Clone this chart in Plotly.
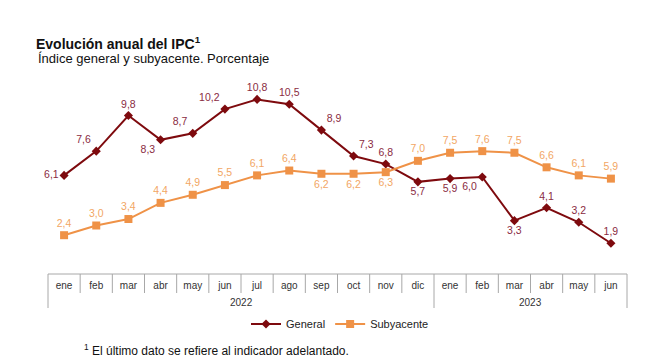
import plotly.graph_objects as go

months = ["ene", "feb", "mar", "abr", "may", "jun", "jul", "ago", "sep", "oct", "nov", "dic",
          "ene", "feb", "mar", "abr", "may", "jun"]
years = ["2022", "2023"]
general = [6.1, 7.6, 9.8, 8.3, 8.7, 10.2, 10.8, 10.5, 8.9, 7.3, 6.8, 5.7, 5.9, 6.0, 3.3, 4.1, 3.2, 1.9]
subyacente = [2.4, 3.0, 3.4, 4.4, 4.9, 5.5, 6.1, 6.4, 6.2, 6.2, 6.3, 7.0, 7.5, 7.6, 7.5, 6.6, 6.1, 5.9]

gen_pos = ["middle left", "top left", "top center", "bottom left", "top left", "top left",
           "top center", "top center", "top right", "top right", "top center", "bottom center",
           "bottom center", "bottom left", "bottom center", "top center", "top center", "top center"]
sub_pos = ["top center"] * 8 + ["bottom center"] * 3 + ["top center"] * 7

fmt = lambda v: f"{v:.1f}".replace(".", ",")
x = list(range(len(months)))

FONT = "Liberation Sans, Arial, sans-serif"
GEN_C = "#7E0A0E"
SUB_C = "#EF9247"

fig = go.Figure()
fig.add_trace(go.Scatter(
    x=x, y=general, name="General", mode="lines+markers+text",
    line=dict(color=GEN_C, width=2),
    marker=dict(symbol="diamond", size=7, color=GEN_C),
    text=[fmt(v) for v in general], textposition=gen_pos,
    textfont=dict(color="#8A2B3F", size=10.5, family=FONT),
    cliponaxis=False,
))
fig.add_trace(go.Scatter(
    x=x, y=subyacente, name="Subyacente", mode="lines+markers+text",
    line=dict(color=SUB_C, width=2),
    marker=dict(symbol="square", size=8, color=SUB_C),
    text=[fmt(v) for v in subyacente], textposition=sub_pos,
    textfont=dict(color="#F2A664", size=10.5, family=FONT),
    cliponaxis=False,
))

n = len(months)
L, W, B, H = 48.0, 579.0, 274.0, 194.0
px = lambda v: (v - L) / W
py = lambda v: (B - v) / H

shapes = []
line_c = "#A8A8A8"
shapes.append(dict(type="line", xref="paper", yref="paper", x0=0, x1=1, y0=0, y1=0,
                   line=dict(color=line_c, width=1)))
for k in range(n + 1):
    full = k in (0, 12, n)
    y1 = py(308) if full else py(293)
    shapes.append(dict(type="line", xref="paper", yref="paper", x0=k / n, x1=k / n,
                       y0=0, y1=y1, line=dict(color=line_c, width=1)))

annotations = [
    dict(x=5.5, y=py(302), xref="x", yref="paper", text=years[0], showarrow=False,
         yanchor="middle", font=dict(size=10, color="#333333", family=FONT)),
    dict(x=14.5, y=py(302), xref="x", yref="paper", text=years[1], showarrow=False,
         yanchor="middle", font=dict(size=10, color="#333333", family=FONT)),
    dict(x=px(36), y=py(59), xref="paper", yref="paper", text="Índice general y subyacente. Porcentaje",
         showarrow=False, xanchor="left", yanchor="middle",
         font=dict(size=13, color="#111111", family=FONT)),
    dict(x=px(82), y=py(350), xref="paper", yref="paper",
         text="<sup>1</sup> El último dato se refiere al indicador adelantado.",
         showarrow=False, xanchor="left", yanchor="middle",
         font=dict(size=12, color="#111111", family=FONT)),
]

fig.update_layout(
    width=660, height=363,
    margin=dict(l=48, r=33, t=80, b=89),
    paper_bgcolor="white", plot_bgcolor="white",
    font=dict(family=FONT, color="#222222"),
    title=dict(text="<b>Evolución anual del IPC<sup>1</sup></b>", x=36 / 660, xref="container",
               xanchor="left", y=1 - 44 / 363, yref="container", yanchor="middle",
               font=dict(size=14, color="#111111", family=FONT)),
    xaxis=dict(range=[-0.5, n - 0.5], tickvals=x, ticktext=months, showgrid=False,
               zeroline=False, showline=False, ticks="", ticklabelstandoff=4,
               tickfont=dict(size=10, color="#333333", family=FONT)),
    yaxis=dict(range=[0, 12], visible=False),
    showlegend=True,
    legend=dict(orientation="h", x=px(340), xanchor="center", y=py(324), yanchor="middle",
                font=dict(size=11, color="#222222", family=FONT), itemwidth=30,
                bgcolor="rgba(0,0,0,0)"),
    shapes=shapes, annotations=annotations,
)

fig.write_html("out.html", config={"displayModeBar": False},
               post_script="document.body.style.margin='0px';")
